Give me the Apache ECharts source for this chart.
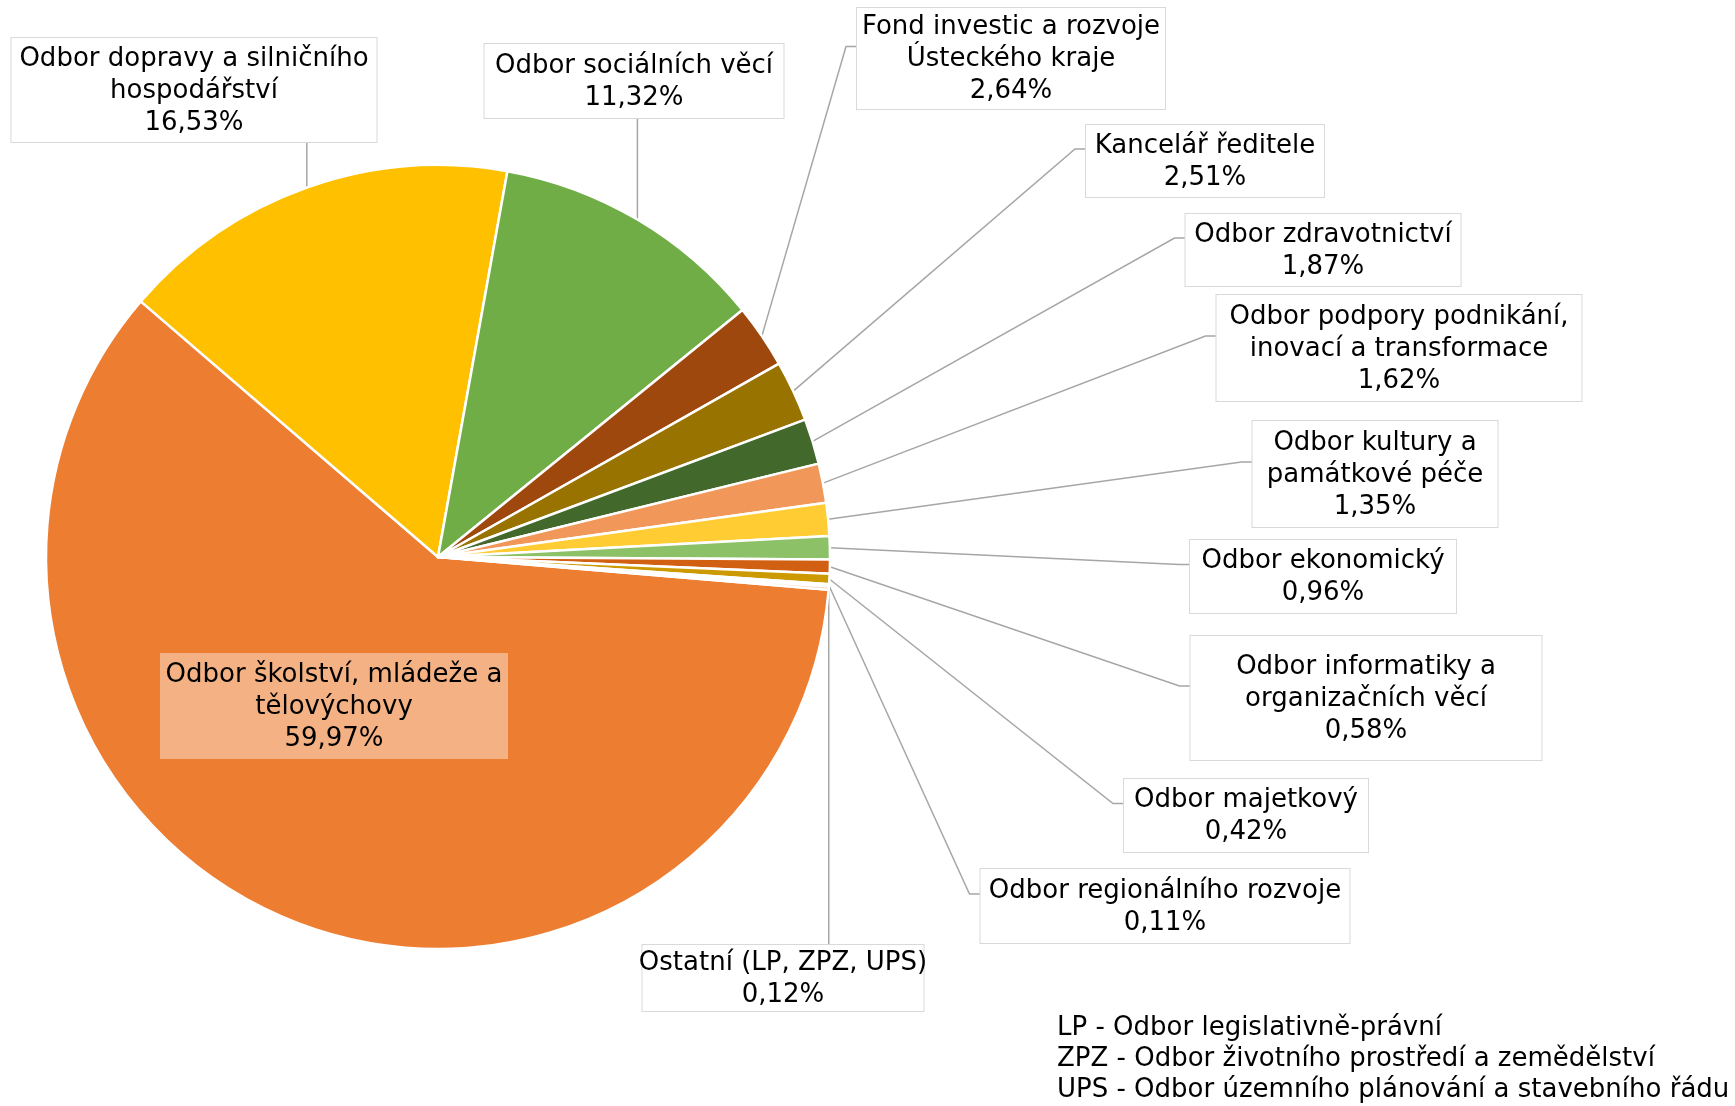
<!DOCTYPE html>
<html><head><meta charset="utf-8">
<script src="https://cdn.jsdelivr.net/npm/echarts@6/dist/echarts.min.js"></script>
<style>html,body{margin:0;padding:0;background:#fff}#c{width:1735px;height:1106px}</style>
</head><body><div id="c"></div>
<script>
const names = [
  'Odbor školství, mládeže a\ntělovýchovy',
  'Odbor dopravy a silničního\nhospodářství',
  'Odbor sociálních věcí',
  'Fond investic a rozvoje\nÚsteckého kraje',
  'Kancelář ředitele',
  'Odbor zdravotnictví',
  'Odbor podpory podnikání,\ninovací a transformace',
  'Odbor kultury a\npamátkové péče',
  'Odbor ekonomický',
  'Odbor informatiky a\norganizačních věcí',
  'Odbor majetkový',
  'Odbor regionálního rozvoje',
  'Ostatní (LP, ZPZ, UPS)'
];
const shares = [59.97, 16.53, 11.32, 2.64, 2.51, 1.87, 1.62, 1.35, 0.96, 0.58, 0.42, 0.11, 0.12];
const colors = ['#ED7D31', '#FFC000', '#70AD47', '#9E480E', '#997300', '#43682B',
                '#F1975A', '#FFCD33', '#8CC168', '#D26012', '#CC9A00', '#5A8A3A', '#F4B183'];
const notes = [
  'LP - Odbor legislativně-právní',
  'ZPZ - Odbor životního prostředí a zemědělství',
  'UPS - Odbor územního plánování a stavebního řádu'
];

// label box layout: [centerX, top, width, height, leader side]
const boxes = [
  [334, 653, 348, 106, 'none'],
  [194, 38, 365, 104, 'bottom'],
  [634, 44, 299, 74, 'bottom'],
  [1011, 8, 308, 101, 'left'],
  [1205, 125, 238, 72, 'left'],
  [1323, 214, 275, 72, 'left'],
  [1399, 295, 365, 106, 'left'],
  [1375, 421, 245, 106, 'left'],
  [1323, 540, 266, 73, 'left'],
  [1366, 636, 351, 124, 'left'],
  [1246, 779, 244, 73, 'left'],
  [1165, 869, 369, 74, 'left'],
  [783, 945, 281, 66, 'top']
];
const LH = 32;
const FONT = "'DejaVu Sans', sans-serif";

const pct = v => v.toFixed(2).replace('.', ',') + '%';

const data = names.map((n, i) => {
  const b = boxes[i];
  const lines = n.split('\n').length + 1;
  const padV = Math.max(1, (b[3] - lines * LH) / 2);
  const item = {
    name: n, value: shares[i],
    itemStyle: { color: colors[i] },
    label: { width: b[2] - 16, padding: [padV + 1, 8, Math.max(0, padV - 1), 8] }
  };
  if (i === 0) {
    item.label.backgroundColor = '#F4B183';
    item.label.borderWidth = 0;
    item.labelLine = { show: false };
  }
  return item;
});

const chart = echarts.init(document.getElementById('c'), null, { renderer: 'canvas' });
chart.setOption({
  animation: false,
  backgroundColor: '#fff',
  title: {
    text: notes.join('\n'),
    left: 1057, top: 1013, padding: 0,
    textStyle: { fontFamily: FONT, fontSize: 26, fontWeight: 'normal', color: '#000', lineHeight: 31 }
  },
  series: [{
    type: 'pie',
    center: [438, 557],
    radius: 392,
    startAngle: -4.8,
    clockwise: true,
    avoidLabelOverlap: false,
    itemStyle: { borderColor: '#fff', borderWidth: 2.5 },
    label: {
      show: true, position: 'outside',
      formatter: p => p.name + '\n' + pct(p.value),
      fontFamily: FONT, fontSize: 26, color: '#000', lineHeight: LH,
      align: 'center', overflow: 'none',
      backgroundColor: '#fff', borderColor: '#D9D9D9', borderWidth: 1
    },
    labelLine: { show: true, length: 10, length2: 10, lineStyle: { color: '#A6A6A6', width: 1.5 } },
    emphasis: { disabled: true },
    labelLayout: function (p) {
      const b = boxes[p.dataIndex];
      const left = b[0] - b[2] / 2, top = b[1], bottom = b[1] + b[3];
      const res = { x: b[0], y: top, align: 'center', verticalAlign: 'top' };
      const pts = p.labelLinePoints;
      if (pts && pts.length && b[4] !== 'none') {
        const p0 = pts[0];
        if (b[4] === 'bottom') {
          res.labelLinePoints = [p0, [p0[0], bottom], [p0[0], bottom]];
        } else if (b[4] === 'top') {
          res.labelLinePoints = [p0, [p0[0], top], [p0[0], top]];
        } else {
          const ay = top + b[3] / 2 - 12;
          res.labelLinePoints = [p0, [left - 11, ay], [left, ay]];
        }
      }
      return res;
    },
    data: data
  }]
});
</script>
</body></html>
